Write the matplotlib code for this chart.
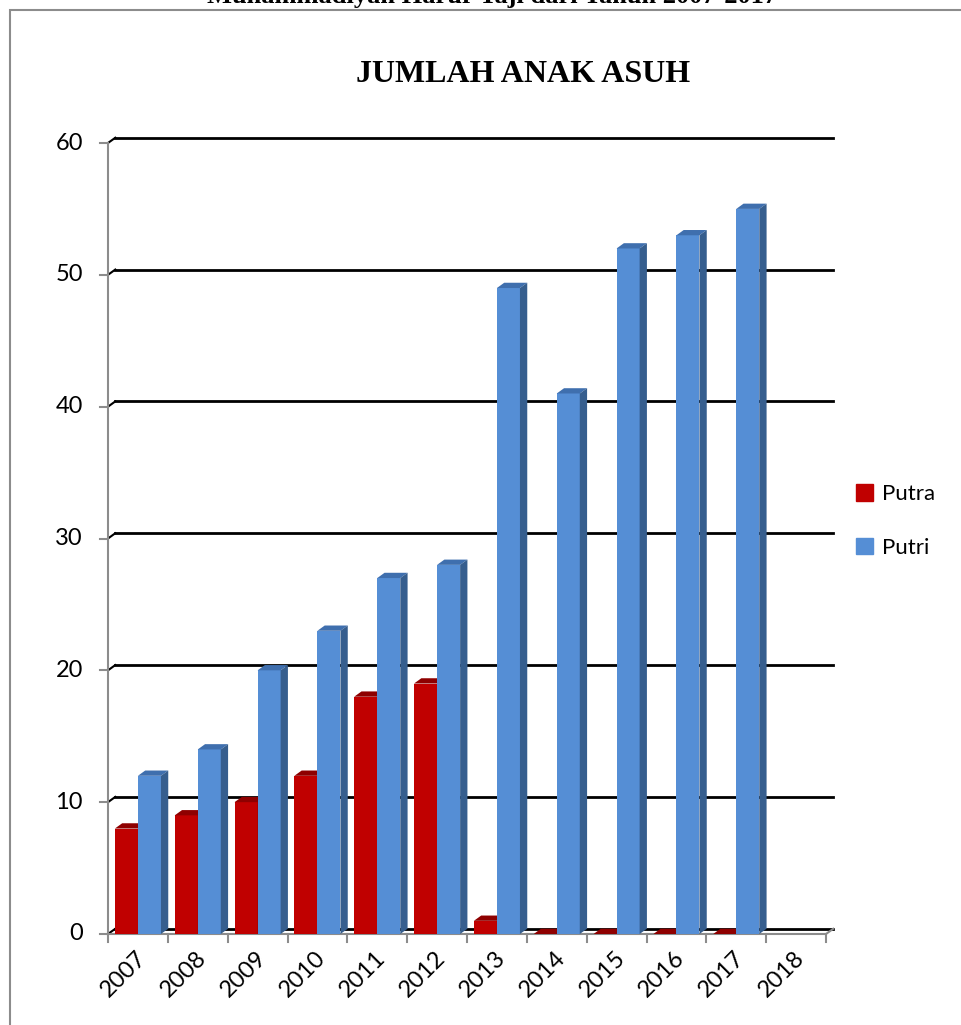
import matplotlib.pyplot as plt
from matplotlib.patches import Polygon, Patch, Rectangle

years = ['2007', '2008', '2009', '2010', '2011', '2012',
         '2013', '2014', '2015', '2016', '2017', '2018']
putra = [8, 9, 10, 12, 18, 19, 1, 0, 0, 0, 0, None]
putri = [12, 14, 20, 23, 27, 28, 49, 41, 52, 53, 55, None]
yticks = [0, 10, 20, 30, 40, 50, 60]

red_front, red_top = '#C00000', '#8E0000'
blue_front, blue_top, blue_side = '#558ED5', '#3F6FAE', '#365E8E'

W, H = 961, 1025
fig = plt.figure(figsize=(W / 100, H / 100), dpi=100)
# axes placed so that front floor/axis corner sits at (108, 934) px
ax = fig.add_axes([108 / W, (H - 934) / H, 718 / W, (934 - 143) / H])
ax.set_xlim(0, 12)
ax.set_ylim(0, 60)
ax.axis('off')

dx, dy = 0.122, 0.4      # depth offset (category units, value units)
bw = 0.385               # bar width

# back gridlines + left wall edge
for v in yticks:
    ax.plot([dx, 12 + dx], [v + dy, v + dy], color='black', lw=2, clip_on=False, zorder=1)
    ax.plot([0, dx], [v, v + dy], color='black', lw=1.5, clip_on=False, zorder=1)
    ax.plot([-0.13, 0], [v, v], color='#8c8c8c', lw=1.5, clip_on=False, zorder=1)
    ax.text(-0.42, v, str(v), ha='right', va='center', fontsize=17, family='Lato')

# front y axis and floor
ax.plot([0, 0], [0, 60], color='#8c8c8c', lw=1.5, clip_on=False, zorder=1)
ax.plot([0, 12, 12 + dx], [0, 0, dy], color='#8c8c8c', lw=1.5, clip_on=False, zorder=1)
for i in range(13):
    ax.plot([i, i], [0, -0.6], color='#8c8c8c', lw=1.5, clip_on=False, zorder=1)


def bar3d(x0, h, front, top, side, z):
    ax.add_patch(Rectangle((x0, 0), bw, h, facecolor=front, edgecolor='none', zorder=z))
    ax.add_patch(Polygon([(x0, h), (x0 + dx, h + dy), (x0 + bw + dx, h + dy), (x0 + bw, h)],
                         facecolor=top, edgecolor='none', zorder=z))
    ax.add_patch(Polygon([(x0 + bw, 0), (x0 + bw, h), (x0 + bw + dx, h + dy), (x0 + bw + dx, dy)],
                         facecolor=side, edgecolor='none', zorder=z))


for i in range(len(years)):
    c = i + 0.5
    if putra[i] is not None:
        bar3d(c - bw, putra[i], red_front, red_top, red_top, 2 + i * 2)
    if putri[i] is not None:
        bar3d(c, putri[i], blue_front, blue_top, blue_side, 3 + i * 2)
    ax.text(c - 0.04, -1.0, years[i], rotation=45, rotation_mode='anchor',
            ha='right', va='top', fontsize=17, family='Lato')

# legend
ax.legend(handles=[Patch(color=red_front, label='Putra'), Patch(color=blue_front, label='Putri')],
          loc='center left', bbox_to_anchor=(836 / W, (H - 521) / H), bbox_transform=fig.transFigure,
          frameon=False, handlelength=0.75, handleheight=0.75, handletextpad=0.4,
          labelspacing=1.5, prop={'family': 'Lato', 'size': 16})

fig.text(523 / W, 1 - 75 / H, 'JUMLAH ANAK ASUH', ha='center', va='center',
         fontsize=23, fontweight='bold', family='Liberation Serif')
fig.text(492 / W, 1 - 3 / H, 'Muhammadiyah Harur Taji dari Tahun 2007-2017', ha='center',
         va='baseline', fontsize=19, fontweight='bold', family='Liberation Serif')

# outer chart frame
fig.patches.append(Rectangle((10 / W, -0.1), 2, 1 - 10 / H + 0.1, transform=fig.transFigure,
                             fill=False, edgecolor='#8c8c8c', lw=1.5))

fig.savefig('out.png', dpi=100)
